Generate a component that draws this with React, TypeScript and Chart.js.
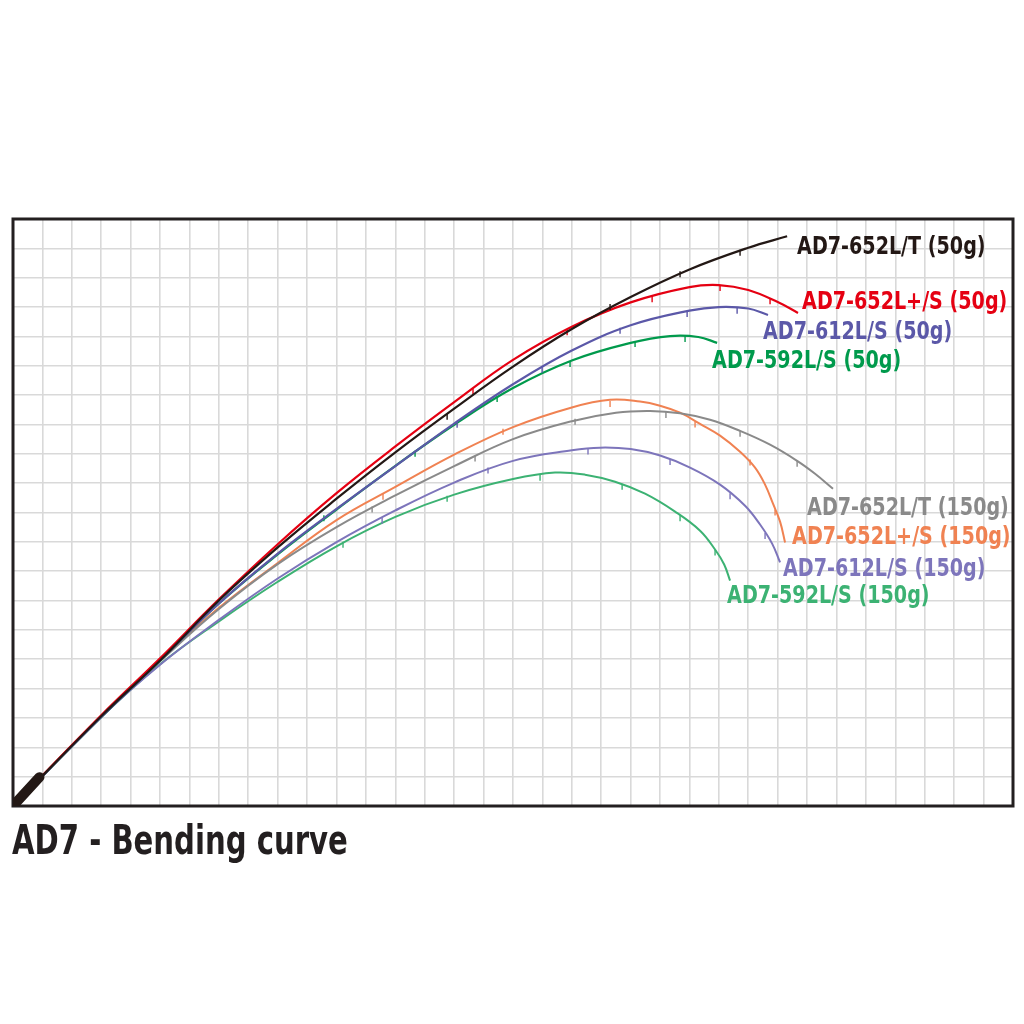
import React, { useEffect, useRef } from "react";
import { Chart, registerables } from "chart.js";

Chart.register(...registerables);

// Grid units: 34 columns x 20 rows
const gridCols = 34;
const gridRows = 20;

const titleText = "AD7 - Bending curve";

const seriesNames = [
  "AD7-652L/T (50g)",
  "AD7-652L+/S (50g)",
  "AD7-612L/S (50g)",
  "AD7-592L/S (50g)",
  "AD7-652L/T (150g)",
  "AD7-652L+/S (150g)",
  "AD7-612L/S (150g)",
  "AD7-592L/S (150g)",
];

const seriesColors = [
  "#231815",
  "#e50012",
  "#5b58a8",
  "#009a4c",
  "#8a8a8a",
  "#f08252",
  "#7d75bb",
  "#3cb273",
];

const seriesWidths = [2.2, 2.2, 2.2, 2.2, 2, 2, 2, 2];

// curve points [x, y] in grid units
const black50 = [[0, 0], [3, 3.06], [5, 4.96], [7, 7.0], [9, 8.81], [11, 10.47], [13, 12.05], [15, 13.54], [17, 14.97], [19, 16.25], [21, 17.34], [23, 18.28], [25, 19.02], [26.32, 19.41]];
const red50 = [[0, 0], [3, 3.09], [5, 5.03], [7, 7.04], [9, 8.92], [11, 10.66], [13, 12.25], [15, 13.76], [17, 15.2], [19, 16.33], [21, 17.16], [23, 17.68], [24, 17.75], [25, 17.58], [26, 17.17], [26.69, 16.8]];
const blue50 = [[0, 0], [3, 3.03], [5, 4.96], [7, 6.9], [9, 8.6], [11, 10.12], [13, 11.58], [15, 13.03], [17, 14.37], [19, 15.52], [21, 16.38], [23, 16.88], [24, 17.0], [25, 16.95], [25.67, 16.73]];
const green50 = [[0, 0], [3, 3.03], [5, 4.96], [7, 6.9], [9, 8.57], [11, 10.1], [13, 11.59], [15, 12.99], [17, 14.24], [19, 15.18], [21, 15.78], [22.34, 16.01], [23.3, 15.98], [23.94, 15.78]];
const gray150 = [[0, 0], [3, 3.06], [5, 4.93], [7, 6.71], [9, 8.24], [11, 9.5], [13, 10.58], [15, 11.58], [17, 12.5], [19, 13.11], [20.5, 13.4], [21.66, 13.46], [22.68, 13.38], [23.7, 13.16], [24.72, 12.78], [25.74, 12.31], [26.66, 11.76], [27.27, 11.32], [27.88, 10.81]];
const orange150 = [[0, 0], [3, 3.06], [5, 4.96], [7, 6.75], [9, 8.28], [11, 9.74], [13, 10.87], [15, 11.97], [17, 12.91], [19, 13.58], [20.3, 13.84], [21.32, 13.78], [22.0, 13.64], [22.68, 13.4], [23.36, 13.02], [24.04, 12.62], [24.72, 12.07], [25.23, 11.53], [25.57, 10.95], [25.84, 10.3], [26.08, 9.69], [26.25, 8.98]];
const blue150 = [[0, 0], [3, 3.03], [5, 4.81], [7, 6.34], [9, 7.75], [11, 8.99], [13, 10.07], [15, 11.02], [17, 11.76], [19, 12.12], [19.96, 12.21], [21.0, 12.16], [22.0, 11.94], [23.02, 11.53], [24.04, 10.95], [24.89, 10.23], [25.4, 9.59], [25.81, 8.94], [26.08, 8.3]];
const green150 = [[0, 0], [3, 3.03], [5, 4.83], [7, 6.29], [9, 7.64], [11, 8.85], [13, 9.85], [15, 10.61], [17, 11.14], [18.43, 11.36], [19.45, 11.29], [20.47, 11.05], [21.49, 10.64], [22.51, 10.03], [23.36, 9.38], [23.87, 8.74], [24.18, 8.23], [24.38, 7.68]];

const seriesPoints = [black50, red50, blue50, green50, gray150, orange150, blue150, green150];

// rod guide positions [x, y] in grid units
const black50Guides = [[14.76, 13.26], [20.3, 17.0], [22.68, 18.12], [24.72, 18.85]];
const red50Guides = [[15.64, 14.12], [18.84, 16.14], [21.73, 17.27], [24.04, 17.65], [25.74, 17.2]];
const blue50Guides = [[15.1, 12.99], [17.99, 14.86], [20.64, 16.19], [22.92, 16.76], [24.62, 16.87]];
const green50Guides = [[10.57, 9.8], [13.67, 12.0], [16.46, 13.87], [18.94, 15.06], [21.15, 15.74], [22.85, 15.91]];
const gray150Guides = [[12.21, 10.1], [15.71, 11.84], [19.11, 13.09], [22.2, 13.32], [24.72, 12.68], [26.66, 11.66]];
const orange150Guides = [[12.58, 10.54], [16.66, 12.75], [20.3, 13.7], [23.19, 13.0], [25.06, 11.7], [25.91, 10.0]];
const blue150Guides = [[12.55, 9.72], [16.15, 11.43], [19.55, 12.08], [22.34, 11.72], [24.38, 10.55], [25.57, 9.2]];
const green150Guides = [[11.22, 8.9], [14.76, 10.47], [17.92, 11.18], [20.71, 10.88], [22.68, 9.8], [23.87, 8.64]];

const seriesGuides = [black50Guides, red50Guides, blue50Guides, green50Guides, gray150Guides, orange150Guides, blue150Guides, green150Guides];

// rod handle (butt) segment
const handlePoints = [[0, 0], [0.9, 0.98]];

// label anchors (left edge, baseline) in grid units
const labelX = [26.66, 26.83, 25.5, 23.77, 27.0, 26.49, 26.18, 24.28];
const labelY = [18.8, 16.93, 15.91, 14.93, 9.93, 8.94, 7.85, 6.9];

const FONT_STACK = '"Liberation Sans Narrow", "DejaVu Sans Condensed", "Roboto Condensed", sans-serif';
const LABEL_FONT = "bold 25px " + FONT_STACK;
const LABEL_SQUEEZE = 0.85;

const toXY = (pts: number[][]) => pts.map(([x, y]) => ({ x, y }));

const labelPlugin = {
  id: "curveLabels",
  beforeDatasetsDraw(chart: any) {
    const { ctx, chartArea } = chart;
    ctx.save();
    ctx.strokeStyle = "#231f20";
    ctx.lineWidth = 3;
    ctx.strokeRect(chartArea.left, chartArea.top, chartArea.right - chartArea.left, chartArea.bottom - chartArea.top);
    ctx.restore();
  },
  afterDatasetsDraw(chart: any) {
    const { ctx, scales } = chart;
    seriesNames.forEach((name, i) => {
      ctx.save();
      ctx.font = LABEL_FONT;
      ctx.textAlign = "left";
      ctx.textBaseline = "alphabetic";
      ctx.fillStyle = seriesColors[i];
      ctx.translate(scales.x.getPixelForValue(labelX[i]), scales.y.getPixelForValue(labelY[i]));
      ctx.scale(LABEL_SQUEEZE, 1);
      ctx.fillText(name, 0, 0);
      ctx.restore();
    });
  },
};

export default function App() {
  const canvasRef = useRef<HTMLCanvasElement | null>(null);

  useEffect(() => {
    if (!canvasRef.current) return;
    const lineSets = seriesPoints.map((pts, i) => ({
      label: seriesNames[i],
      data: toXY(pts),
      borderColor: seriesColors[i],
      backgroundColor: seriesColors[i],
      borderWidth: seriesWidths[i],
      pointRadius: 0,
      showLine: true,
      tension: 0.4,
      fill: false,
      order: i + 1,
    }));
    const guideSets = seriesGuides.map((pts, i) => ({
      label: seriesNames[i] + " guides",
      data: toXY(pts),
      borderColor: seriesColors[i],
      backgroundColor: seriesColors[i],
      pointStyle: "line",
      rotation: 90,
      pointRadius: 3,
      pointBorderWidth: 1.4,
      showLine: false,
      order: i + 1,
    }));
    const datasets: any[] = [
      {
        label: "handle",
        data: toXY(handlePoints),
        borderColor: seriesColors[0],
        borderWidth: 10,
        borderCapStyle: "round",
        pointRadius: 0,
        showLine: true,
        tension: 0,
        order: 0,
      },
      ...lineSets,
      ...guideSets,
    ];
    const chart = new Chart(canvasRef.current, {
      type: "scatter",
      data: { datasets },
      options: {
        animation: false,
        responsive: false,
        devicePixelRatio: 1,
        layout: { padding: { left: 13, top: 219, right: 11, bottom: 218 } },
        plugins: { legend: { display: false }, tooltip: { enabled: false }, title: { display: false } },
        scales: {
          x: {
            type: "linear",
            min: 0,
            max: gridCols,
            ticks: { display: false, stepSize: 1 },
            grid: { color: "#d9d9d9", lineWidth: 1.6, drawTicks: false },
            border: { display: false },
          },
          y: {
            type: "linear",
            min: 0,
            max: gridRows,
            ticks: { display: false, stepSize: 1 },
            grid: { color: "#d9d9d9", lineWidth: 1.6, drawTicks: false },
            border: { display: false },
          },
        },
      },
      plugins: [labelPlugin],
    });
    return () => chart.destroy();
  }, []);

  return (
    <div style={{ position: "fixed", left: 0, top: 0, width: 1024, height: 1024, background: "#ffffff" }}>
      <canvas ref={canvasRef} width={1024} height={1024} style={{ display: "block" }} />
      <div
        style={{
          position: "absolute",
          left: 12,
          top: 820,
          fontFamily: FONT_STACK,
          fontWeight: "bold",
          fontSize: 41,
          lineHeight: "41px",
          color: "#231f20",
          whiteSpace: "nowrap",
          transform: "scaleX(0.79)",
          transformOrigin: "left top",
        }}
      >
        {titleText}
      </div>
    </div>
  );
}
